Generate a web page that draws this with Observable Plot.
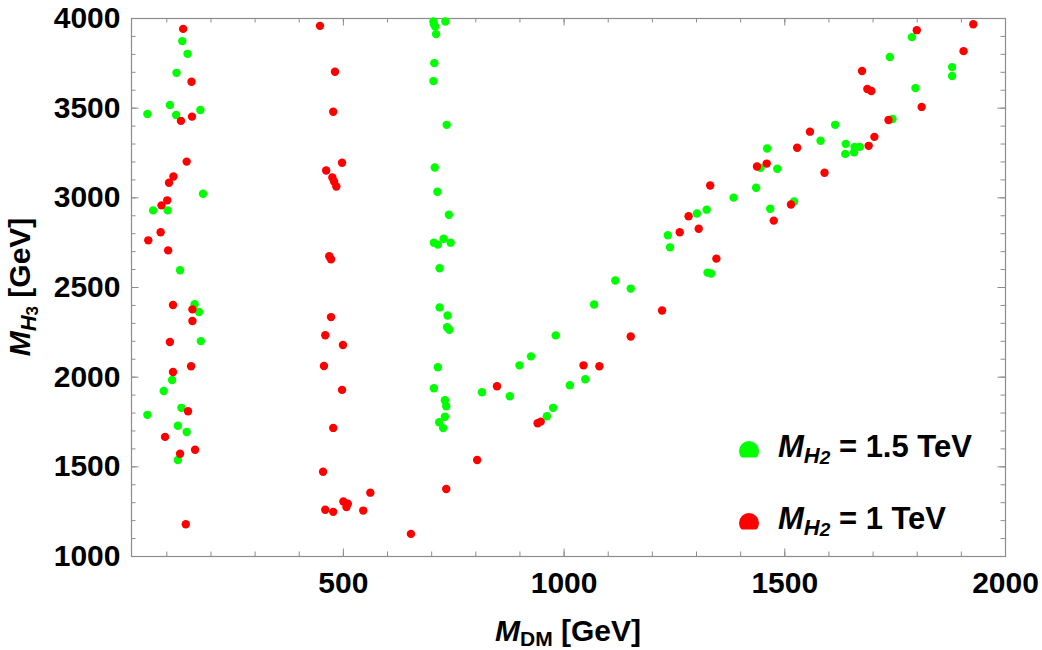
<!DOCTYPE html>
<html>
<head>
<meta charset="utf-8">
<script src="https://cdn.jsdelivr.net/npm/d3@7"></script>
<script src="https://cdn.jsdelivr.net/npm/@observablehq/plot@0.6"></script>
<style>
  html, body { margin: 0; padding: 0; background: #fff; }
  #chart { position: relative; width: 1042px; height: 650px; }
  svg text { white-space: pre; }
</style>
</head>
<body>
<div id="chart"></div>
<script>
// Scan points [M_DM, M_H3] in GeV for M_H2 = 1.5 TeV
const scanH2_1500 = [
  [135,3874],[147,3803],[122,3697],[107,3518],[56,3468],[121,3462],[176,3490],[182,3023],
  [69,2930],[102,2930],[130,2596],[163,2407],[173,2363],[177,2201],[112,1984],[93,1923],
  [133,1829],[56,1790],[125,1729],[145,1694],[125,1538],
  [704,3983],[705,3968],[708,3955],[731,3983],[710,3913],[706,3751],[704,3651],[734,3407],
  [707,3169],[713,3034],[739,2906],[705,2750],[714,2739],[727,2772],[743,2750],[718,2607],
  [718,2389],[736,2344],[735,2278],[740,2264],[714,2055],[705,1938],[730,1871],[733,1838],
  [730,1779],[717,1749],[726,1716],
  [814,1916],[877,1894],[899,2066],[925,2116],[981,2233],[961,1782],[975,1829],[1013,1955],
  [1048,1988],[1068,2405],[1116,2539],[1151,2494],[1235,2791],[1240,2724],[1301,2913],
  [1323,2934],[1325,2583],[1333,2578],[1384,3001],[1435,3056],[1445,3167],[1460,3275],
  [1467,2939],[1483,3162],[1521,2980],[1581,3318],[1614,3407],[1637,3245],[1638,3301],
  [1657,3254],[1658,3284],[1670,3284],[1738,3785],[1744,3440],[1788,3896],[1796,3612],
  [1879,3729],[1879,3679]
];

// Scan points [M_DM, M_H3] in GeV for M_H2 = 1 TeV
const scanH2_1000 = [
  [137,3942],[156,3647],[157,3453],[132,3429],[145,3202],[115,3119],[105,3084],[101,2986],
  [88,2958],[86,2808],[58,2763],[103,2707],[114,2402],[158,2378],[158,2313],[107,2196],
  [114,2029],[155,2061],[148,1810],[96,1667],[130,1573],[164,1595],[143,1180],
  [447,3959],[481,3703],[477,3480],[461,3152],[497,3196],[475,3113],[479,3091],[484,3063],
  [472,2657],[468,2674],[472,2335],[459,2234],[499,2179],[456,2062],[497,1929],[477,1717],
  [454,1473],[459,1261],[477,1249],[500,1307],[510,1294],[507,1276],[545,1256],[561,1356],
  [653,1126],
  [733,1376],[803,1538],[848,1949],[940,1743],[947,1752],[1044,2066],[1080,2061],[1151,2227],
  [1222,2372],[1262,2808],[1282,2897],[1305,2828],[1331,3069],[1345,2661],[1437,3175],
  [1459,3191],[1475,2873],[1514,2963],[1528,3279],[1557,3369],[1590,3140],[1675,3707],
  [1687,3607],[1696,3596],[1690,3290],[1703,3340],[1735,3434],[1799,3935],[1810,3507],
  [1905,3818],[1927,3968]
];

// Axis ranges and ticks
const xDomain = [20, 2000];
const yDomain = [1000, 4000];
const xMajorTicks = [500, 1000, 1500, 2000];
const yMajorTicks = [1000, 1500, 2000, 2500, 3000, 3500, 4000];
const xMinorTicks = d3.range(100, 2001, 100);
const yMinorTicks = d3.range(1000, 4001, 100);

// Legend entries
const series = [
  {name: "1.5 TeV", data: scanH2_1500, color: "#00ff00"},
  {name: "1 TeV", data: scanH2_1000, color: "#ff0000"}
];

const W = 1042, H = 650;
const mL = 131, mR = 37, mT = 18, mB = 94;
const innerW = W - mL - mR, innerH = H - mT - mB;
const frameColor = "#8c8c8c";
const majorLen = 7.5, minorLen = 4.5;
const font = "'Liberation Sans', Arial, sans-serif";

const edgeTicks = (values, len) => [
  Plot.tickX(values, {x: d => d, stroke: frameColor, insetTop: innerH - len}),
  Plot.tickX(values, {x: d => d, stroke: frameColor, insetBottom: innerH - len}),
];
const sideTicks = (values, len) => [
  Plot.tickY(values, {y: d => d, stroke: frameColor, insetRight: innerW - len}),
  Plot.tickY(values, {y: d => d, stroke: frameColor, insetLeft: innerW - len}),
];

const chart = Plot.plot({
  width: W,
  height: H,
  marginLeft: mL,
  marginRight: mR,
  marginTop: mT,
  marginBottom: mB,
  style: {fontFamily: font, background: "#fff", overflow: "visible"},
  x: {domain: xDomain, axis: null},
  y: {domain: yDomain, axis: null},
  marks: [
    ...edgeTicks(xMinorTicks, minorLen),
    ...edgeTicks(xMajorTicks, majorLen),
    ...sideTicks(yMinorTicks, minorLen),
    ...sideTicks(yMajorTicks, majorLen),
    Plot.frame({stroke: frameColor, strokeWidth: 1.2}),
    Plot.axisX({ticks: xMajorTicks, tickSize: 0, tickPadding: 15, label: null,
      fontSize: 30, fontWeight: "bold", fill: "#000", tickFormat: d => String(d)}),
    Plot.axisY({ticks: yMajorTicks, tickSize: 0, tickPadding: 11, label: null,
      fontSize: 30, fontWeight: "bold", fill: "#000", tickFormat: d => String(d)}),
    Plot.dot(series[0].data, {x: d => d[0], y: d => d[1], r: 4.2, fill: series[0].color}),
    Plot.dot(series[1].data, {x: d => d[0], y: d => d[1], r: 4.2, fill: series[1].color})
  ]
});

document.getElementById("chart").appendChild(chart);

const svg = d3.select(chart);

// Axis titles with italic symbol and subscript
const xTitle = svg.append("text")
  .attr("x", mL + innerW / 2).attr("y", 641)
  .attr("text-anchor", "middle")
  .style("font-family", font).style("font-size", "30px").style("font-weight", "bold");
xTitle.append("tspan").style("font-style", "italic").text("M");
xTitle.append("tspan").attr("dy", 5).style("font-size", "21px").text("DM");
xTitle.append("tspan").attr("dy", -5).text(" [GeV]");

const yTitle = svg.append("text")
  .attr("transform", `translate(30,${mT + innerH / 2}) rotate(-90)`)
  .attr("text-anchor", "middle")
  .style("font-family", font).style("font-size", "30px").style("font-weight", "bold");
yTitle.append("tspan").style("font-style", "italic").text("M");
yTitle.append("tspan").attr("dy", 6).style("font-size", "22px").style("font-style", "italic").text("H");
yTitle.append("tspan").attr("dy", 2).style("font-size", "17px").text("3");
yTitle.append("tspan").attr("dy", -8).text(" [GeV]");

// Legend in the lower right of the frame
const legendX = 749, legendY0 = 451, legendStep = 72;
const defs = svg.append("defs");
series.forEach((s, i) => {
  const cy = legendY0 + i * legendStep;
  const clipId = `legend-clip-${i}`;
  defs.append("clipPath").attr("id", clipId)
    .append("rect").attr("x", legendX - 12).attr("y", cy - 12).attr("width", 24).attr("height", 18.5);
  svg.append("circle").attr("cx", legendX).attr("cy", cy).attr("r", 10)
    .attr("fill", s.color).attr("clip-path", `url(#${clipId})`);
  const t = svg.append("text")
    .attr("x", legendX + 29).attr("y", cy + 6)
    .attr("text-anchor", "start")
    .style("font-family", font).style("font-size", "31px").style("font-weight", "bold");
  t.append("tspan").style("font-style", "italic").text("M");
  t.append("tspan").attr("dy", 6).style("font-size", "22px").style("font-style", "italic").text("H");
  t.append("tspan").attr("dy", 1).style("font-size", "19px").style("font-style", "italic").text("2");
  t.append("tspan").attr("dy", -7).text(` = ${s.name}`);
});
</script>
</body>
</html>
